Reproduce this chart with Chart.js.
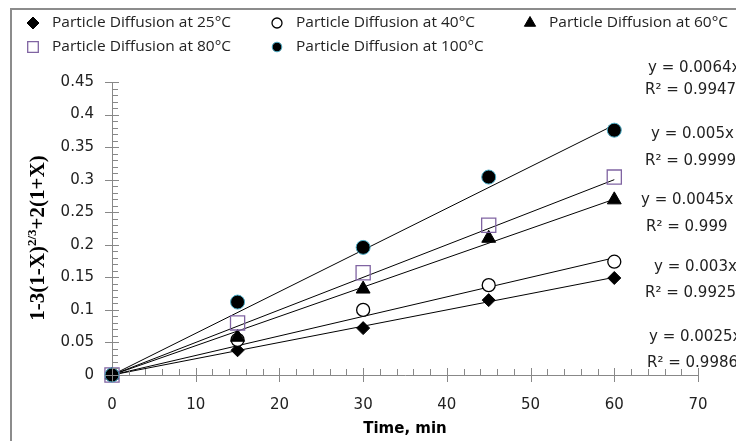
<!DOCTYPE html>
<html>
<head>
<meta charset="utf-8">
<script src="https://cdn.jsdelivr.net/npm/chart.js@4"></script>
<style>
  html, body { margin: 0; padding: 0; background: #fff; }
  #wrap { position: relative; width: 736px; height: 441px; overflow: hidden; }
  #frame { position: absolute; left: 10px; top: 8px; width: 800px; height: 500px;
           border-left: 2px solid #8c8c8c; border-top: 2px solid #8c8c8c; }
  canvas { position: absolute; left: 0; top: 0; }
</style>
</head>
<body>
<div id="wrap"><div id="frame"></div><canvas id="chart" width="736" height="441"></canvas></div>
<script>
/* ---------- DATA ---------- */
const times = [0, 15, 30, 45, 60];
const temps = ["25", "40", "60", "80", "100"];
const d25  = [0, 0.038, 0.072, 0.115, 0.149];
const d40  = [0, 0.054, 0.100, 0.138, 0.174];
const d60  = [0, 0.058, 0.132, 0.210, 0.269];
const d80  = [0, 0.080, 0.157, 0.230, 0.304];
const d100 = [0, 0.112, 0.196, 0.304, 0.376];
const slopes = [0.0025, 0.003, 0.0045, 0.005, 0.0064];
const slopeText = ["0.0025", "0.003", "0.0045", "0.005", "0.0064"];
const r2Text = ["0.9986", "0.9925", "0.999", "0.9999", "0.9947"];
const fitRange = [0, 60];

/* ---------- STYLE ---------- */
const tickFont = '15px "DejaVu Sans"';
const markers = [
  { style: "rectRot",  r: 6.5, lr: 6,   fill: "#000", border: "#000", lw: 1 },
  { style: "circle",   r: 6.5, lr: 5,   fill: "#fff", border: "#000", lw: 1.3 },
  { style: "triangle", r: 8,   lr: 6.5, fill: "#000", border: "#000", lw: 1 },
  { style: "rect",     r: 10,  lr: 7.5, fill: "rgba(0,0,0,0)", border: "#8064A2", lw: 1.3 },
  { style: "circle",   r: 7,   lr: 4.8, fill: "#000", border: "#4BACC6", lw: 1 }
];
// legend slots and equation label slots (pixels)
const legendSlots = [[33, 23], [277, 23], [530, 23], [33, 47], [277, 47]];
const eqSlots = [
  [[649, 337], [647, 363]],
  [[654, 267], [645, 293]],
  [[641, 200], [646, 227]],
  [[651, 134], [645, 161]],
  [[648, 68],  [645, 90]]
];

const seriesData = [d25, d40, d60, d80, d100];

const datasets = [];
seriesData.forEach((vals, i) => {
  const m = markers[i];
  datasets.push({
    label: `Particle Diffusion at ${temps[i]}°C`,
    data: times.map((t, k) => ({ x: t, y: vals[k] })),
    showLine: false,
    clip: false,
    pointStyle: m.style,
    pointRadius: m.r,
    backgroundColor: m.fill,
    borderColor: m.border,
    borderWidth: m.lw,
    order: 5 - i
  });
});
slopes.forEach((s, i) => {
  datasets.push({
    label: "fit" + i,
    data: fitRange.map(t => ({ x: t, y: s * t })),
    showLine: true,
    pointRadius: 0,
    borderColor: "#000",
    borderWidth: 1,
    order: 10
  });
});

/* ---------- CUSTOM DRAWING ---------- */
const extras = {
  id: "extras",
  afterDraw(chart) {
    const ctx = chart.ctx;
    const xs = chart.scales.x, ys = chart.scales.y;

    // minor + major ticks
    ctx.save();
    ctx.strokeStyle = "#888";
    ctx.lineWidth = 1;
    ctx.beginPath();
    for (let i = 0; i <= 45; i++) {
      const py = Math.round(ys.getPixelForValue(i / 100)) + 0.5;
      const ax = xs.left;
      if (i % 5 === 0) { ctx.moveTo(ax - 7, py); ctx.lineTo(ax + 7, py); }
      else { ctx.moveTo(ax, py); ctx.lineTo(ax + 6, py); }
    }
    for (let v = 0; v <= 70; v += 2) {
      const px = Math.round(xs.getPixelForValue(v)) + 0.5;
      const ay = ys.bottom;
      if (v % 10 === 0) { ctx.moveTo(px, ay - 7); ctx.lineTo(px, ay + 7); }
      else { ctx.moveTo(px, ay - 6); ctx.lineTo(px, ay); }
    }
    ctx.stroke();
    ctx.restore();

    // legend
    ctx.save();
    ctx.font = '15px "Open Sans"';
    const sx = 179 / ctx.measureText("Particle Diffusion at 25°C").width;
    ctx.fillStyle = "#222";
    ctx.textBaseline = "middle";
    seriesData.forEach((_, i) => {
      const m = markers[i];
      const [lx, ly] = legendSlots[i];
      ctx.save();
      ctx.fillStyle = m.fill;
      ctx.strokeStyle = m.border;
      ctx.lineWidth = m.lw;
      Chart.helpers.drawPoint(ctx, { pointStyle: m.style, radius: m.lr, borderWidth: m.lw }, lx, ly);
      ctx.restore();
      ctx.save();
      ctx.translate(lx + 19, ly);
      ctx.scale(sx, 1);
      ctx.fillText(datasets[i].label, 0, 0);
      ctx.restore();
    });
    ctx.restore();

    // trendline equations
    ctx.save();
    ctx.font = tickFont;
    ctx.fillStyle = "#222";
    ctx.textBaseline = "middle";
    slopes.forEach((s, i) => {
      const [a, b] = eqSlots[i];
      ctx.fillText(`y = ${slopeText[i]}x`, a[0], a[1]);
      ctx.fillText(`R² = ${r2Text[i]}`, b[0], b[1]);
    });
    ctx.restore();

    // y axis title with superscript
    ctx.save();
    const big = 'bold 21px "Liberation Serif"';
    const small = 'bold 13px "Liberation Serif"';
    const parts = [["1-3(1-X)", big, 0], ["2/3", small, -8], ["+2(1+X)", big, 0]];
    let total = 0;
    parts.forEach(p => { ctx.font = p[1]; total += ctx.measureText(p[0]).width; });
    ctx.translate(37, 238);
    ctx.rotate(-Math.PI / 2);
    ctx.fillStyle = "#000";
    ctx.textBaseline = "alphabetic";
    let cx = -total / 2;
    parts.forEach(p => {
      ctx.font = p[1];
      ctx.fillText(p[0], cx, 7 + p[2]);
      cx += ctx.measureText(p[0]).width;
    });
    ctx.restore();
  }
};

/* ---------- CHART ---------- */
new Chart(document.getElementById("chart"), {
  type: "scatter",
  data: { datasets },
  options: {
    responsive: false,
    animation: false,
    devicePixelRatio: 1,
    events: [],
    layout: { padding: { top: 82, right: 38, left: 0, bottom: 0 } },
    plugins: { legend: { display: false }, tooltip: { enabled: false } },
    scales: {
      x: {
        type: "linear", min: 0, max: 70,
        grid: { display: false },
        border: { display: true, color: "#888", width: 1 },
        ticks: { stepSize: 10, padding: 13, color: "#222", font: { family: "DejaVu Sans", size: 15 } },
        title: { display: true, text: "Time, min", color: "#000",
                 font: { family: "DejaVu Sans", size: 15, weight: "bold" }, padding: { top: 0, bottom: 3 } },
        afterFit(s) { s.height = 66; }
      },
      y: {
        type: "linear", min: 0, max: 0.45,
        grid: { display: false },
        border: { display: true, color: "#888", width: 1 },
        ticks: { stepSize: 0.05, padding: 10, color: "#222", font: { family: "DejaVu Sans", size: 15 },
                 callback: v => String(Number(v.toFixed(2))) },
        afterFit(s) { s.width = 112; }
      }
    }
  },
  plugins: [extras]
});
</script>
</body>
</html>
